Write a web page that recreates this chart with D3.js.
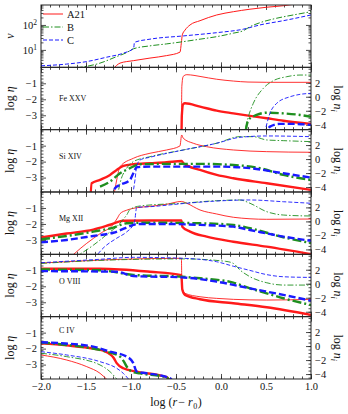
<!DOCTYPE html>
<html>
<head>
<meta charset="utf-8">
<script src="https://cdn.jsdelivr.net/npm/d3@7"></script>
<style>
  body { margin: 0; background: #fff; }
  svg { font-family: "Liberation Serif", "DejaVu Serif", serif; }
</style>
</head>
<body>
<div id="chart"></div>
<script>
// ---- data ----
const xTicks = [-2.0, -1.5, -1.0, -0.5, 0.0, 0.5, 1.0];
const runs = ['A21', 'B', 'C'];
const ions = ['Fe XXV', 'Si XIV', 'Mg XII', 'O VIII', 'C IV'];
const etaTicks = [-1, -2, -3];
const nTicks = [2, 0, -2, -4];
const vTicks = [10, 100];

// velocity, top panel  [log(r-r0), v]
const vel_A21 = [[-1.2,1.7],[-1.122,2.95],[-0.974,3.7],[-0.789,4.7],[-0.604,5.9],[-0.456,8.1],[-0.44,20],[-0.43,40],[-0.40,62],[-0.344,100],[-0.233,148],[-0.048,251],[0.137,339],[0.322,427],[0.508,513],[0.692,589],[0.85,708]];
const vel_B = [[-1.604,1.9],[-1.344,2.95],[-1.159,5.4],[-1.048,7.8],[-0.974,11],[-0.789,14.5],[-0.604,17.4],[-0.419,21.4],[-0.233,26.9],[-0.048,33.9],[0.137,46.8],[0.248,58.9],[0.322,85],[0.433,123],[0.619,186],[0.803,251],[1.0,339]];
const vel_C = [[-2.0,2.3],[-1.715,2.7],[-1.492,3.4],[-1.27,5.1],[-1.085,7.4],[-0.97,11.7],[-0.962,20],[-0.789,26.9],[-0.419,36.3],[-0.048,49],[0.248,67.6],[0.433,100],[0.692,148],[1.0,251]];

// Fe XXV  (eta = log eta, n = log n_i)
const fe_A21_eta = [[-0.44,-5],[-0.435,-3],[-0.42,-2.3],[-0.4,-2.25],[-0.233,-2.46],[-0.048,-2.71],[0.137,-2.88],[0.322,-3.04],[0.508,-3.19],[0.692,-3.34],[1.0,-3.54]];
const fe_A21_n = [[-0.44,-6],[-0.435,1.5],[-0.42,2.9],[-0.38,3.15],[-0.3,3.05],[-0.233,2.9],[-0.048,2.5],[0.137,2.24],[0.3,2.1],[0.508,2.06],[1.0,2.06]];
const fe_B_eta = [[0.25,-5],[0.304,-3.29],[0.396,-2.98],[0.508,-2.84],[0.692,-2.88],[0.878,-2.98],[1.0,-3.09]];
const fe_B_n = [[0.25,-6],[0.304,-2.86],[0.359,-0.94],[0.47,1.2],[0.581,2.29],[0.73,2.86],[0.878,3.1],[1.0,3.1]];
const fe_C_eta = [[0.47,-5],[0.544,-3.71],[0.656,-3.54],[0.803,-3.54],[1.0,-3.6]];
const fe_C_n = [[0.47,-6],[0.544,-2.37],[0.619,-0.94],[0.767,0],[0.878,0.34],[1.0,0.49]];

// Si XIV
const si_A21_eta = [[-1.456,-5],[-1.437,-3.35],[-1.344,-3.14],[-1.233,-2.83],[-1.159,-2.52],[-1.085,-2.27],[-0.974,-2.16],[-0.789,-2.1],[-0.604,-2.04],[-0.437,-1.96],[-0.419,-2.1],[-0.233,-2.52],[-0.048,-2.83],[0.137,-3.04],[0.508,-3.35],[1.0,-3.77]];
const si_A21_n = [[-1.2,-6],[-1.159,-2.99],[-1.122,-1.09],[-0.974,0.11],[-0.789,0.83],[-0.604,1.3],[-0.456,1.87],[-0.437,3.44],[-0.419,2.97],[-0.308,2.26],[-0.159,1.77],[0.137,1.3],[0.508,1.06],[1.0,0.97]];
const si_B_eta = [[-1.344,-3.56],[-1.233,-3.25],[-1.122,-2.73],[-1.011,-2.41],[-0.9,-2.16],[-0.604,-2.14],[-0.233,-2.14],[0.137,-2.21],[0.433,-2.41],[0.692,-2.83],[1.0,-3.14]];
const si_B_n = [[-1.16,-6],[-1.122,-3.46],[-1.048,-1.31],[-0.974,-0.37],[-0.789,0.34],[-0.419,1.3],[-0.048,2.26],[0.211,3.2],[0.359,3.2],[0.508,2.73],[0.692,2.63],[1.0,2.49]];
const si_C_eta = [[-1.215,-5],[-1.178,-3.66],[-1.122,-3.46],[-1.011,-3.14],[-0.974,-2.73],[-0.937,-2.35],[-0.789,-2.31],[-0.419,-2.31],[-0.048,-2.31],[0.322,-2.41],[0.692,-2.73],[1.0,-3.0]];
const si_C_n = [[-0.993,-6],[-0.956,-2.99],[-0.937,-1.09],[-0.9,-0.13],[-0.789,0.26],[-0.419,1.3],[-0.048,2.26],[0.211,3.11],[0.508,3.3],[1.0,3.2]];

// Mg XII
const mg_A21_eta = [[-2,-2.85],[-1.715,-2.6],[-1.419,-2.35],[-1.233,-2.05],[-1.086,-1.8],[-0.789,-1.78],[-0.44,-1.78],[-0.43,-2.17],[-0.344,-2.48],[-0.159,-2.79],[0.137,-3.11],[0.508,-3.42],[1.0,-3.89]];
const mg_A21_n = [[-1.75,-6],[-1.492,-3.13],[-1.344,-1.75],[-1.197,-0.4],[-1.15,0.5],[-1.122,1.1],[-1.048,1.6],[-0.937,1.95],[-0.789,2.15],[-0.604,2.45],[-0.44,2.85],[-0.381,2.59],[-0.233,1.63],[-0.048,1.06],[0.137,0.59],[0.508,0.3],[1.0,0.34]];
const mg_B_eta = [[-2,-2.96],[-1.715,-2.75],[-1.419,-2.48],[-1.197,-2.23],[-1.048,-1.96],[-0.789,-1.92],[-0.233,-1.96],[0.137,-2.06],[0.322,-2.27],[0.692,-2.83],[1.0,-3.2]];
const mg_B_n = [[-1.75,-6],[-1.419,-3.4],[-1.344,-2.66],[-1.233,-1.5],[-1.159,-0.76],[-1.086,0.3],[-1.048,0.91],[-1.011,1.7],[-0.9,2.2],[-0.419,2.6],[-0.048,2.96],[0.211,3.06],[0.322,2.59],[0.508,1.39],[0.692,0.91],[1.0,0.77]];
const mg_C_eta = [[-2,-3.15],[-1.715,-3.0],[-1.419,-2.75],[-1.197,-2.55],[-0.974,-2.06],[-0.937,-2.0],[-0.604,-2.0],[-0.233,-2.06],[0.137,-2.17],[0.322,-2.38],[0.692,-2.79],[1.0,-3.05]];
const mg_C_n = [[-1.45,-6],[-1.3,-3.7],[-1.159,-2.4],[-1.048,-1.5],[-0.974,-0.4],[-0.956,0.3],[-0.944,1.6],[-0.937,2.0],[-0.789,2.1],[-0.419,2.55],[-0.048,2.91],[0.322,3.06],[0.692,2.81],[1.0,2.59]];

// O VIII
const o_A21_eta = [[-2,-0.9],[-1.344,-0.9],[-0.789,-1.09],[-0.44,-1.3],[-0.43,-2.2],[-0.4,-2.54],[-0.233,-2.81],[0.137,-3.06],[0.508,-3.31],[1.0,-3.79]];
const o_A21_n = [[-2,2.95],[-1.715,3.14],[-1.2,3.45],[-0.44,3.63],[-0.435,0],[-0.425,-0.9],[-0.4,-1.37],[-0.233,-1.86],[-0.048,-2.09],[0.137,-2.23],[0.508,-2.33],[1.0,-2.23]];
const o_B_eta = [[-2,-0.95],[-1.344,-1.0],[-0.974,-1.29],[-0.437,-1.4],[-0.233,-1.5],[0.137,-1.77],[0.322,-2.13],[0.508,-2.44],[0.692,-2.75],[1.0,-3.17]];
const o_B_n = [[-2,2.9],[-1.2,3.4],[-0.419,3.55],[0.05,3.2],[0.137,2.9],[0.211,1.96],[0.322,1.0],[0.508,0.14],[0.692,-0.19],[1.0,-0.19]];
const o_C_eta = [[-2,-1.05],[-1.159,-1.09],[-0.974,-1.36],[-0.437,-1.44],[-0.048,-1.71],[0.322,-2.13],[0.692,-2.54],[1.0,-2.9]];
const o_C_n = [[-2,3.0],[-1.344,3.49],[-0.974,3.77],[-0.419,3.63],[-0.048,3.14],[0.137,2.5],[0.322,1.9],[0.508,1.3],[0.692,1.0],[1.0,0.9]];

// C IV
const c_A21_eta = [[-2,-1.67],[-1.715,-1.8],[-1.419,-2.0],[-1.3,-2.15],[-1.233,-2.35],[-1.19,-2.6],[-1.159,-2.91],[-1.086,-3.23],[-0.937,-3.44],[-0.604,-3.79],[-0.55,-4.2]];
const c_A21_n = [[-2,-1.27],[-1.715,-1.99],[-1.492,-2.94],[-1.344,-3.89],[-1.25,-5]];
const c_B_eta = [[-2,-1.62],[-1.715,-1.77],[-1.419,-2.0],[-1.233,-2.25],[-1.122,-2.5],[-1.08,-2.8],[-1.048,-3.12],[-0.993,-3.44],[-0.9,-3.55],[-0.604,-3.79],[-0.56,-4.2]];
const c_B_n = [[-2,-1.03],[-1.715,-1.51],[-1.344,-2.7],[-1.233,-3.66],[-1.14,-5]];
const c_C_eta = [[-2,-1.6],[-1.789,-1.66],[-1.419,-1.875],[-1.233,-2.19],[-1.048,-2.5],[-0.974,-2.91],[-0.95,-3.3],[-0.937,-3.44],[-0.826,-3.54],[-0.567,-3.85],[-0.52,-4.2]];
const c_C_n = [[-2,-0.8],[-1.715,-1.27],[-1.344,-2.23],[-1.159,-3.17],[-1.086,-3.89],[-1.01,-5]];

// ion -> run -> [eta, n]
const ionData = [
  { A21: [fe_A21_eta, fe_A21_n], B: [fe_B_eta, fe_B_n], C: [fe_C_eta, fe_C_n] },
  { A21: [si_A21_eta, si_A21_n], B: [si_B_eta, si_B_n], C: [si_C_eta, si_C_n] },
  { A21: [mg_A21_eta, mg_A21_n], B: [mg_B_eta, mg_B_n], C: [mg_C_eta, mg_C_n] },
  { A21: [o_A21_eta, o_A21_n], B: [o_B_eta, o_B_n], C: [o_C_eta, o_C_n] },
  { A21: [c_A21_eta, c_A21_n], B: [c_B_eta, c_B_n], C: [c_C_eta, c_C_n] }
];
const velData = { A21: vel_A21, B: vel_B, C: vel_C };

// ---- styles ----
const runStyle = {
  A21: { color: '#ff1a1a', thickDash: null, thinDash: null },
  B:   { color: '#1f8f1f', thickDash: '9,3,2,3', thinDash: '6,2,1.5,2' },
  C:   { color: '#1a1aff', thickDash: '7,3', thinDash: '4,2' }
};
const ionLabelDy = [34, 29, 29, 30, 16];

// ---- layout ----
const W = 348, H = 414;
const padL = 41, padR = 311, padT = 5, panelH = 62.33, nPanels = 6;

const svg = d3.select('#chart').append('svg')
  .attr('width', W).attr('height', H);

const x = d3.scaleLinear().domain([-2, 1]).range([padL, padR]);
const xMinor = d3.range(-20, 11).map(d => d / 10);

const line = (xs, ys) => d3.line()
  .x(d => xs(d[0]))
  .y(d => ys(d[1]))
  .curve(d3.curveMonotoneX);

function xAxes(g, y0, y1, withLabels) {
  // bottom, ticks pointing up
  g.append('g').attr('transform', `translate(0,${y1})`)
    .call(d3.axisBottom(x).tickValues(xTicks).tickSizeInner(-5).tickSizeOuter(0)
      .tickPadding(4).tickFormat(withLabels ? d3.format('.1f') : ''))
    .call(a => a.select('.domain').remove());
  g.append('g').attr('transform', `translate(0,${y1})`)
    .call(d3.axisBottom(x).tickValues(xMinor).tickSizeInner(-2.5).tickSizeOuter(0).tickFormat(''))
    .call(a => a.select('.domain').remove());
  // top, ticks pointing down
  g.append('g').attr('transform', `translate(0,${y0})`)
    .call(d3.axisTop(x).tickValues(xTicks).tickSizeInner(-5).tickSizeOuter(0).tickFormat(''))
    .call(a => a.select('.domain').remove());
  g.append('g').attr('transform', `translate(0,${y0})`)
    .call(d3.axisTop(x).tickValues(xMinor).tickSizeInner(-2.5).tickSizeOuter(0).tickFormat(''))
    .call(a => a.select('.domain').remove());
}

function styleAxes(g) {
  g.selectAll('.tick line').attr('stroke', '#222').attr('stroke-width', 0.8);
  g.selectAll('.tick text').attr('fill', '#111').style('font-size', '10.5px')
    .style('font-family', '"Liberation Serif", "DejaVu Serif", serif');
}

// ---- top panel: v ----
{
  const y0 = padT, y1 = padT + panelH;
  const g = svg.append('g');
  const yv = d3.scaleLog().domain([2, 630]).range([y1, y0]);
  svg.append('clipPath').attr('id', 'clip0')
    .append('rect').attr('x', padL).attr('y', y0).attr('width', padR - padL).attr('height', panelH);

  const vMinor = [];
  [1, 10, 100].forEach(dec => d3.range(2, 10).forEach(m => {
    const v = dec * m;
    if (v > 2 && v < 630) vMinor.push(v);
  }));

  g.append('g').attr('transform', `translate(${padL},0)`)
    .call(d3.axisLeft(yv).tickValues(vTicks).tickSizeInner(-5).tickSizeOuter(0).tickFormat('').tickPadding(4))
    .call(a => a.select('.domain').remove());
  g.append('g').attr('transform', `translate(${padL},0)`)
    .call(d3.axisLeft(yv).tickValues(vMinor).tickSizeInner(-2.5).tickSizeOuter(0).tickFormat(''))
    .call(a => a.select('.domain').remove());
  g.append('g').attr('transform', `translate(${padR},0)`)
    .call(d3.axisRight(yv).tickValues(vTicks).tickSizeInner(-5).tickSizeOuter(0).tickFormat(''))
    .call(a => a.select('.domain').remove());
  g.append('g').attr('transform', `translate(${padR},0)`)
    .call(d3.axisRight(yv).tickValues(vMinor).tickSizeInner(-2.5).tickSizeOuter(0).tickFormat(''))
    .call(a => a.select('.domain').remove());

  // 10^n labels
  vTicks.forEach(v => {
    const t = g.append('text').attr('x', padL - 4).attr('y', yv(v) + 4)
      .attr('text-anchor', 'end').attr('fill', '#111').style('font-size', '10.5px');
    t.append('tspan').text('10');
    t.append('tspan').attr('dy', -4).style('font-size', '7.5px').text(Math.round(Math.log10(v)));
  });

  xAxes(g, y0, y1, false);
  styleAxes(g);

  const lines = svg.append('g').attr('clip-path', 'url(#clip0)');
  runs.forEach(r => {
    lines.append('path').datum(velData[r])
      .attr('d', line(x, yv))
      .attr('fill', 'none')
      .attr('stroke', runStyle[r].color)
      .attr('stroke-width', 1)
      .attr('stroke-dasharray', runStyle[r].thinDash);
  });

  // legend
  const leg = svg.append('g');
  runs.forEach((r, i) => {
    const ly = y0 + 9 + i * 13;
    leg.append('line').attr('x1', padL + 2).attr('x2', padL + 22).attr('y1', ly).attr('y2', ly)
      .attr('stroke', runStyle[r].color).attr('stroke-width', 1)
      .attr('stroke-dasharray', runStyle[r].thinDash);
    leg.append('text').attr('x', padL + 26).attr('y', ly + 4).attr('fill', '#111')
      .style('font-size', '10.5px').text(r);
  });

  svg.append('rect').attr('x', padL).attr('y', y0).attr('width', padR - padL).attr('height', panelH)
    .attr('fill', 'none').attr('stroke', '#222').attr('stroke-width', 1);

  svg.append('text')
    .attr('transform', `translate(14,${(y0 + y1) / 2}) rotate(-90)`)
    .attr('text-anchor', 'middle').attr('fill', '#111')
    .style('font-size', '12px').style('font-style', 'italic').text('v');
}

// ---- ion panels ----
ions.forEach((ion, k) => {
  const i = k + 1;
  const y0 = padT + i * panelH, y1 = y0 + panelH;
  const yEta = d3.scaleLinear().domain([-3.9, 0]).range([y1, y0]);
  const yN = d3.scaleLinear().domain([-4.7, 4.2]).range([y1, y0]);
  const g = svg.append('g');

  svg.append('clipPath').attr('id', 'clip' + i)
    .append('rect').attr('x', padL).attr('y', y0).attr('width', padR - padL).attr('height', panelH);

  const etaMinor = d3.range(-39, 1, 2).map(d => d / 10);
  const nMinor = d3.range(-9, 9).map(d => d / 2);

  g.append('g').attr('transform', `translate(${padL},0)`)
    .call(d3.axisLeft(yEta).tickValues(etaTicks).tickSizeInner(-5).tickSizeOuter(0).tickPadding(4)
      .tickFormat(d3.format('d')))
    .call(a => a.select('.domain').remove());
  g.append('g').attr('transform', `translate(${padL},0)`)
    .call(d3.axisLeft(yEta).tickValues(etaMinor).tickSizeInner(-2.5).tickSizeOuter(0).tickFormat(''))
    .call(a => a.select('.domain').remove());
  g.append('g').attr('transform', `translate(${padR},0)`)
    .call(d3.axisRight(yN).tickValues(nTicks).tickSizeInner(-5).tickSizeOuter(0).tickPadding(4)
      .tickFormat(d3.format('d')))
    .call(a => a.select('.domain').remove());
  g.append('g').attr('transform', `translate(${padR},0)`)
    .call(d3.axisRight(yN).tickValues(nMinor.filter(v => v > -4.7 && v < 4.2)).tickSizeInner(-2.5).tickSizeOuter(0).tickFormat(''))
    .call(a => a.select('.domain').remove());

  xAxes(g, y0, y1, i === nPanels - 1);
  styleAxes(g);

  const lines = svg.append('g').attr('clip-path', `url(#clip${i})`);
  runs.forEach(r => {
    const [eta, n] = ionData[k][r];
    const st = runStyle[r];
    // thin: log n_i on right axis
    lines.append('path').datum(n)
      .attr('d', line(x, yN))
      .attr('fill', 'none').attr('stroke', st.color)
      .attr('stroke-width', 0.9).attr('stroke-dasharray', st.thinDash);
    // thick: log eta on left axis
    lines.append('path').datum(eta)
      .attr('d', line(x, yEta))
      .attr('fill', 'none').attr('stroke', st.color)
      .attr('stroke-width', 2.4).attr('stroke-dasharray', st.thickDash);
  });

  svg.append('rect').attr('x', padL).attr('y', y0).attr('width', padR - padL).attr('height', panelH)
    .attr('fill', 'none').attr('stroke', '#222').attr('stroke-width', 1);

  svg.append('text').attr('x', padL + 18).attr('y', y0 + ionLabelDy[k])
    .attr('fill', '#111').style('font-size', '8px').text(ion);

  // left title: log eta
  const lt = svg.append('text')
    .attr('transform', `translate(14,${(y0 + y1) / 2}) rotate(-90)`)
    .attr('text-anchor', 'middle').attr('fill', '#111').style('font-size', '12px');
  lt.append('tspan').text('log ');
  lt.append('tspan').style('font-style', 'italic').text('η');

  // right title: log n_i
  const rt = svg.append('text')
    .attr('transform', `translate(334,${(y0 + y1) / 2}) rotate(90)`)
    .attr('text-anchor', 'middle').attr('fill', '#111').style('font-size', '12px');
  rt.append('tspan').text('log ');
  rt.append('tspan').style('font-style', 'italic').text('n');
  rt.append('tspan').attr('dy', 3).style('font-size', '8px').style('font-style', 'italic').text('i');
});

// x title
{
  const t = svg.append('text').attr('x', (padL + padR) / 2).attr('y', 406)
    .attr('text-anchor', 'middle').attr('fill', '#111').style('font-size', '12px');
  t.append('tspan').text('log (');
  t.append('tspan').style('font-style', 'italic').text('r');
  t.append('tspan').attr('dx', 1).text('− ');
  t.append('tspan').style('font-style', 'italic').text('r');
  t.append('tspan').attr('dx', 0.5).attr('dy', 3).style('font-size', '8px').text('0');
  t.append('tspan').attr('dx', 0.5).attr('dy', -3).text(')');
}
</script>
</body>
</html>
